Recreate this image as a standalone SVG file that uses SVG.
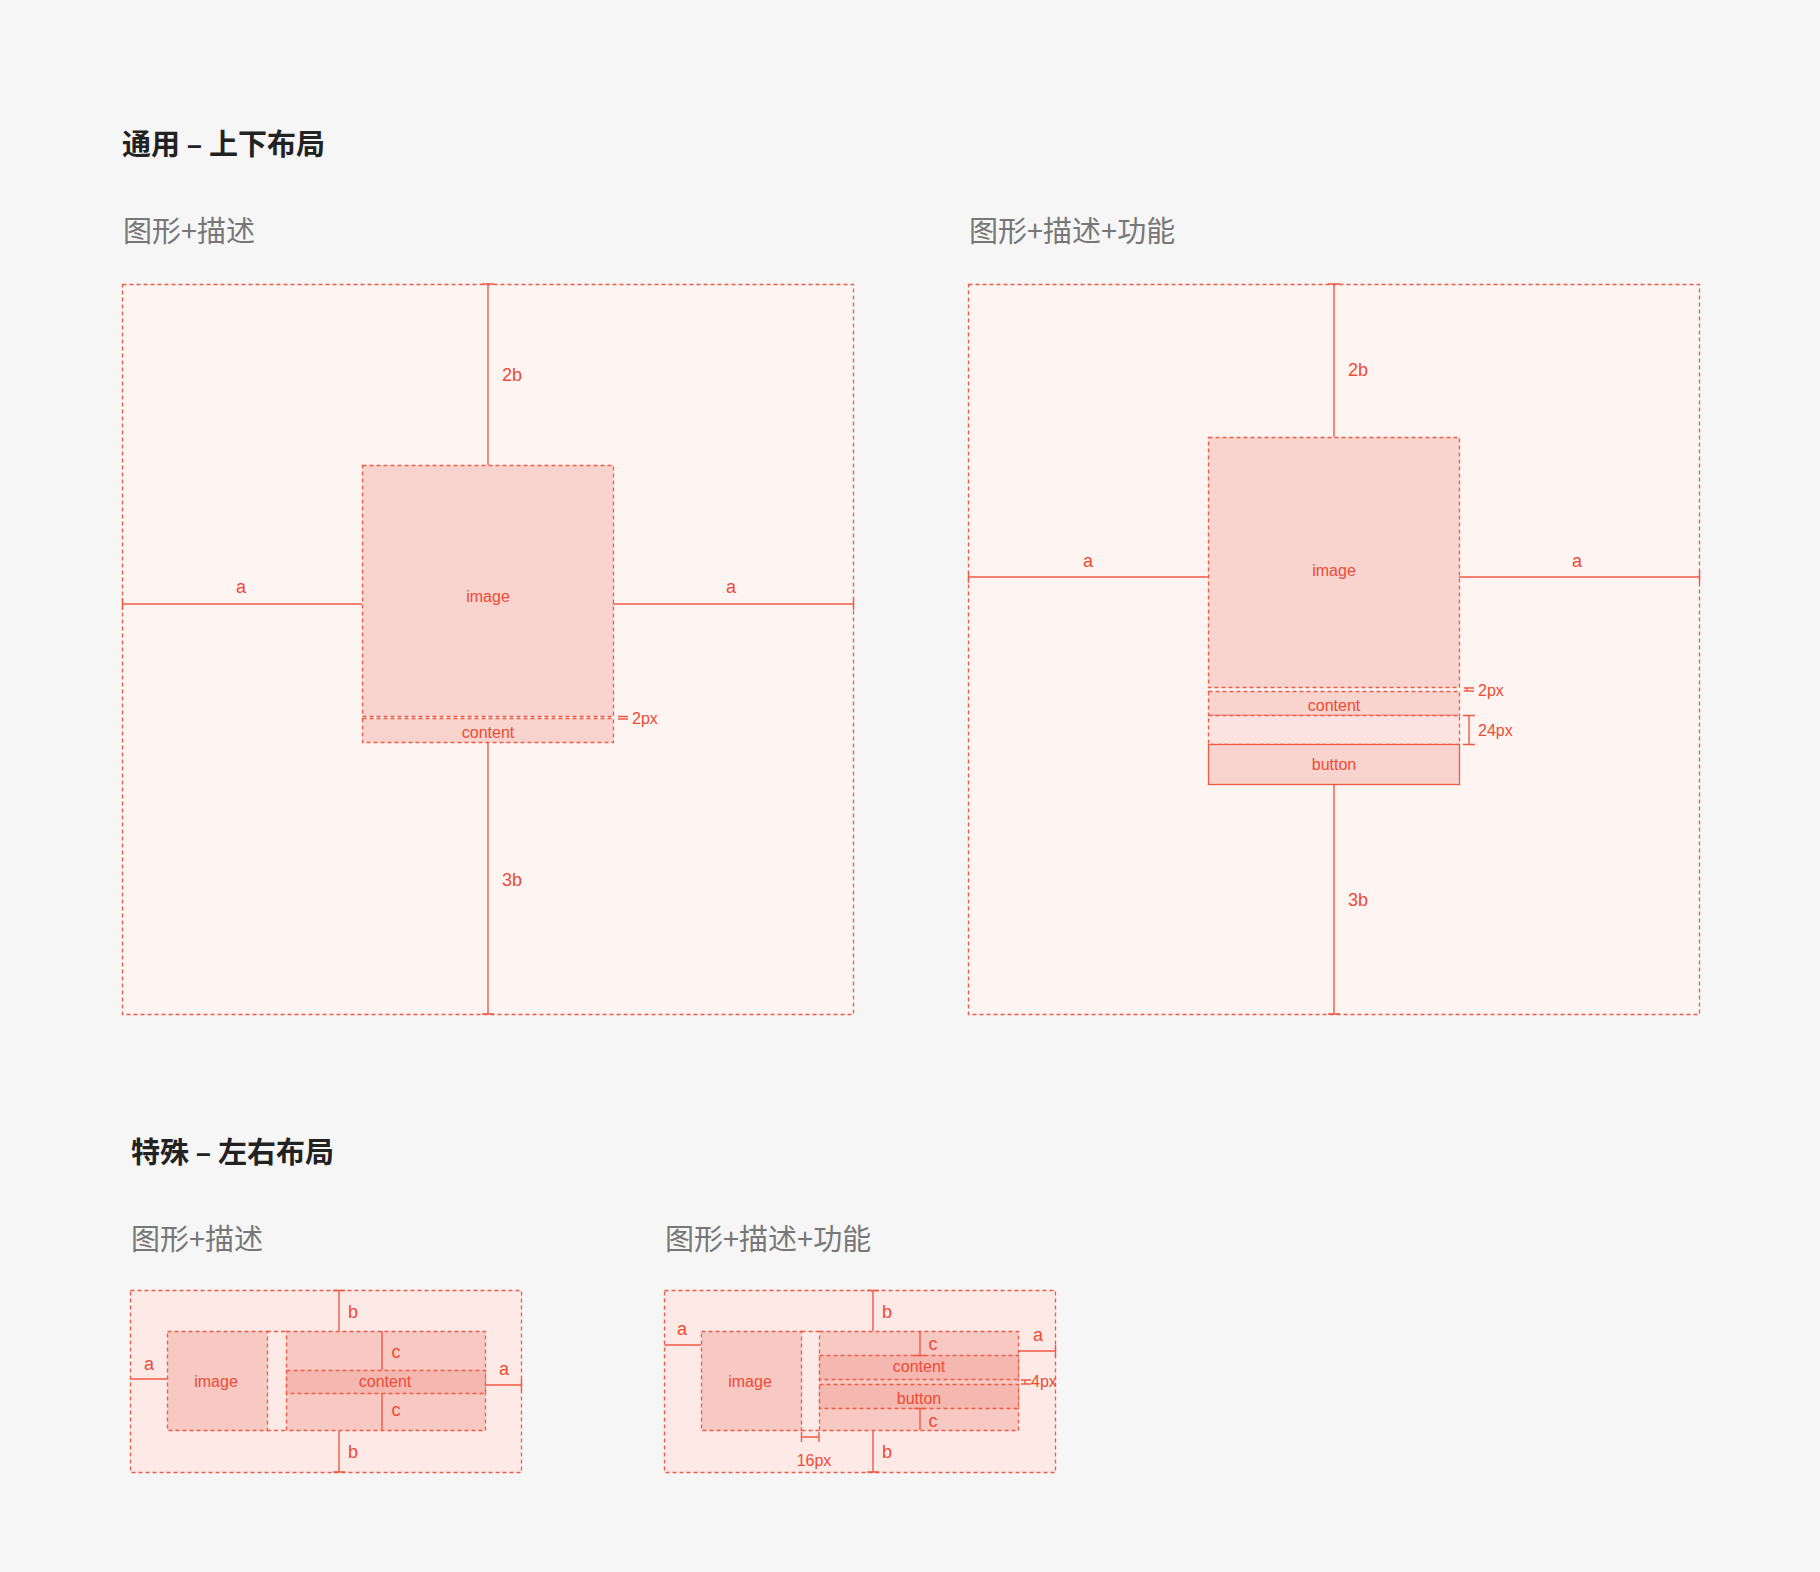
<svg xmlns="http://www.w3.org/2000/svg" width="1820" height="1572" viewBox="0 0 1820 1572">
<style>
.bg{fill:#f6f6f6}
.fr{fill:#fef5f3;stroke:#ef5a45;stroke-width:1.3;stroke-dasharray:4 3}
.fr2{fill:#fdeae7;stroke:#ef5a45;stroke-width:1.3;stroke-dasharray:4 3}
.bx{fill:#f9d3ce;stroke:#ef5a45;stroke-width:1.3;stroke-dasharray:4 3}
.bxs{fill:#f9d3ce;stroke:#ef5a45;stroke-width:1.3}
.bb{fill:#f8c8c2;stroke:#ef5a45;stroke-width:1.3;stroke-dasharray:4 3}
.bc{fill:#f5b8b0;stroke:#ef5a45;stroke-width:1.3;stroke-dasharray:4 3}
.gap{fill:#fde3df;stroke:#ef5a45;stroke-width:1.3;stroke-dasharray:4 3}
.dl{fill:none;stroke:#ef5a45;stroke-width:1.3;stroke-dasharray:4 3}
.ln{fill:none;stroke:#ef5a45;stroke-width:1.4}
.t{font-family:"Helvetica","Liberation Sans",Arial,sans-serif;fill:#ef4a35;text-anchor:middle;dominant-baseline:central}
.s{font-size:16px}
.m{font-size:18px}
.st{text-anchor:start}
.h1{font-family:"Noto Sans CJK SC",sans-serif;font-size:29px;font-weight:bold;fill:#222;dominant-baseline:central}
.h2{font-family:"Noto Sans CJK SC",sans-serif;font-size:29px;fill:#777;dominant-baseline:central}
</style>
<rect class="bg" width="1820" height="1572"/>
<text class="h1" x="122" y="142">通用 – 上下布局</text>
<text class="h2" x="123" y="229">图形+描述</text>
<text class="h2" x="969" y="229">图形+描述+功能</text>
<text class="h1" x="131" y="1150">特殊 – 左右布局</text>
<text class="h2" x="131" y="1237">图形+描述</text>
<text class="h2" x="665" y="1237">图形+描述+功能</text>

<g id="panel1">
<rect class="fr" x="122.5" y="284.5" width="731" height="730"/>
<g id="p1-image"><rect class="bx" x="362.5" y="465.5" width="251" height="251"/><text class="t s" x="488" y="596">image</text></g>
<g id="p1-content"><rect class="bx" x="362.5" y="718.5" width="251" height="24"/><text class="t s" x="488" y="732">content</text></g>
</g>
<g id="panel2">
<rect class="fr" x="968.5" y="284.5" width="731" height="730"/>
<g id="p2-image"><rect class="bx" x="1208.5" y="437.5" width="251" height="250"/><text class="t s" x="1334" y="570">image</text></g>
<g id="p2-content"><rect class="bx" x="1208.5" y="691.5" width="251" height="24"/><text class="t s" x="1334" y="705">content</text></g>
<rect class="gap" x="1208.5" y="715.5" width="251" height="29"/>
<g id="p2-button"><rect class="bxs" x="1208.5" y="744.5" width="251" height="40"/><text class="t s" x="1334" y="764">button</text></g>
</g>
<g id="panel3">
<rect class="fr2" x="130.5" y="1290.5" width="391" height="182"/>
<g id="p3-image"><rect class="bb" x="167.5" y="1331.5" width="100" height="99"/><text class="t s" x="216" y="1381">image</text></g>
<path class="dl" d="M267 1331.5H286M267 1430.5H286"/>
<g id="p3-text"><rect class="bb" x="286.5" y="1331.5" width="199" height="99"/>
<rect class="bc" x="286.5" y="1370.5" width="199" height="23"/><text class="t s" x="385" y="1381">content</text></g>
</g>
<g id="panel4">
<rect class="fr2" x="664.5" y="1290.5" width="391" height="182"/>
<g id="p4-image"><rect class="bb" x="701.5" y="1331.5" width="100" height="99"/><text class="t s" x="750" y="1381">image</text></g>
<path class="dl" d="M801.5 1331.5H819M801.5 1430.5H819"/>
<g id="p4-text"><rect class="bb" x="819.5" y="1331.5" width="199" height="99"/>
<rect class="bc" x="819.5" y="1355.5" width="199" height="24"/><text class="t s" x="919" y="1366">content</text>
<rect class="bc" x="819.5" y="1384.5" width="199" height="24"/><text class="t s" x="919" y="1398">button</text></g>
</g>

<g id="connectors">
<path class="ln" d="M488 284V465M482 284H494M488 743V1014M482 1014H494M122.5 604H362M122.5 598V610M613 604H853.5M853.5 598V610"/>
<path class="ln" d="M618 716.5H628M618 719H628"/>
<path class="ln" d="M1334 284V437M1328 284H1340M1334 784V1014M1328 1014H1340M968.5 577H1208M968.5 571V583M1459 577H1699.5M1699.5 571V583"/>
<path class="ln" d="M1464 688H1474M1464 691H1474M1467 688V691M1463 715.5H1475M1463 744.5H1475M1469 715.5V744.5"/>
<path class="ln" d="M339 1290V1331M333 1290.5H345M339 1431V1472M333 1472H345M382 1331V1370M382 1393V1430M130.5 1379H167M485.5 1385H521.5M521.5 1379V1391"/>
<path class="ln" d="M873 1290V1331M867 1290.5H879M873 1431V1472M867 1472H879M920 1331V1355M914 1355.5H926M920 1408V1430M914 1408.5H926M664.5 1345H701M1019 1351H1055.5M1055.5 1345V1357M1021 1380H1031M1021 1384H1031M1025 1380V1384M801.5 1437H819M801.5 1432V1442M819 1432V1442"/>
</g>
<g id="labels">
<text class="t m" x="512" y="375">2b</text><text class="t m" x="512" y="880">3b</text>
<text class="t m" x="241" y="587">a</text><text class="t m" x="731" y="587">a</text>
<text class="t s st" x="632" y="718">2px</text>
<text class="t m" x="1358" y="370">2b</text><text class="t m" x="1358" y="900">3b</text>
<text class="t m" x="1088" y="561">a</text><text class="t m" x="1577" y="561">a</text>
<text class="t s st" x="1478" y="690">2px</text><text class="t s st" x="1478" y="730">24px</text>
<text class="t m" x="353" y="1312">b</text><text class="t m" x="353" y="1452">b</text>
<text class="t m" x="396" y="1352">c</text><text class="t m" x="396" y="1410">c</text>
<text class="t m" x="149" y="1364">a</text><text class="t m" x="504" y="1369">a</text>
<text class="t m" x="887" y="1312">b</text><text class="t m" x="887" y="1452">b</text>
<text class="t m" x="933" y="1344">c</text><text class="t m" x="933" y="1421">c</text>
<text class="t m" x="682" y="1329">a</text><text class="t m" x="1038" y="1335">a</text>
<text class="t s st" x="1031" y="1381">4px</text>
<text class="t s" x="814" y="1460">16px</text>
</g>
</svg>
